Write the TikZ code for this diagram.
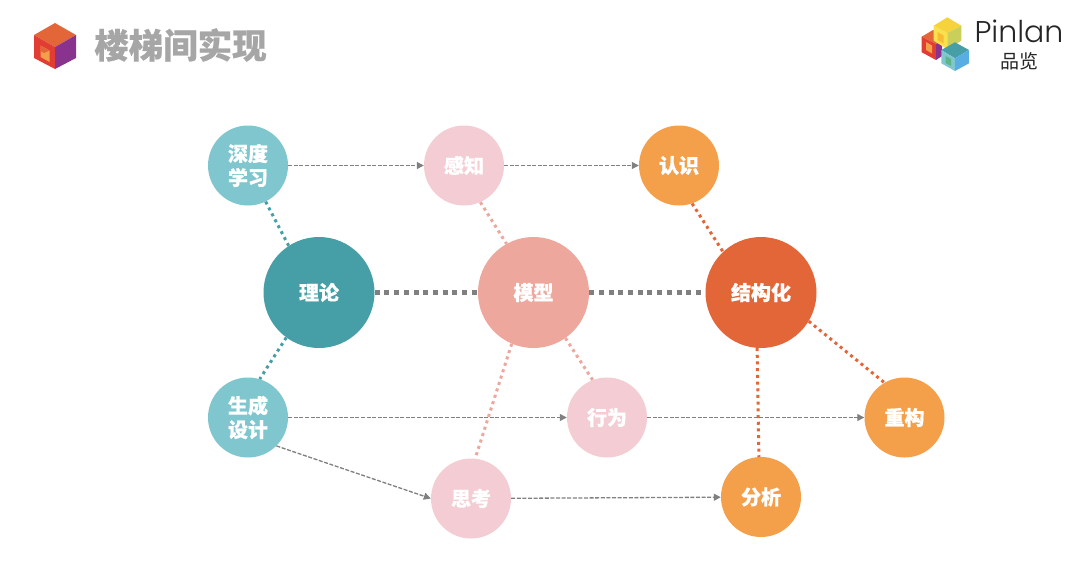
\documentclass[tikz,border=0pt]{standalone}
\usepackage{fontspec}
\newfontfamily\cjk[BoldFeatures={FakeBold=0.6}]{Noto Sans CJK SC}
\newfontfamily\logofont{Poppins Light}
\usetikzlibrary{arrows.meta}
\definecolor{tealD}{HTML}{469EA6}
\definecolor{tealL}{HTML}{7FC6CE}
\definecolor{pinkD}{HTML}{EDA79C}
\definecolor{pinkL}{HTML}{F3CDD3}
\definecolor{orgD}{HTML}{E36639}
\definecolor{orgL}{HTML}{F49F4A}
\definecolor{edgeG}{HTML}{808080}
\definecolor{cubeR}{HTML}{E23D33}
\definecolor{cubeP}{HTML}{8A338E}
\definecolor{cubeY}{HTML}{F6D33C}
\definecolor{cubeYL}{HTML}{F9E04C}
\definecolor{cubeYG}{HTML}{C9CF58}
\definecolor{cubeB}{HTML}{58ADE3}
\definecolor{cubeG}{HTML}{5FB58A}
\tikzset{
  x=1pt,y=-1pt,
  big/.style={circle,minimum size=111pt,inner sep=0pt,text=white,align=center,font=\cjk\bfseries\fontsize{20}{24}\selectfont},
  small/.style={circle,minimum size=80pt,inner sep=0pt,text=white,align=center,font=\cjk\bfseries\fontsize{20}{24}\selectfont},
  flow/.style={draw=edgeG,line width=1.3pt,dash pattern=on 4pt off 1.6pt,-{Triangle[length=7pt,width=7pt,fill=edgeG]}},
  link/.style={line width=3pt,dash pattern=on 3pt off 3.7pt},
  trunk/.style={draw=edgeG,line width=4.8pt,dash pattern=on 5pt off 4.7pt},
}
\begin{document}
\begin{tikzpicture}
\useasboundingbox (0,0) rectangle (1080,576);
\fill[white] (0,0) rectangle (1080,576);
% left logo
\fill[orgD] (55,23)--(76,35)--(55,47)--(34,35)--cycle;
\fill[cubeR] (34,35)--(55,47)--(55,69)--(34,58)--cycle;
\fill[cubeP] (76,35)--(55,47)--(55,69)--(76,58)--cycle;
\fill[orgL] (40.5,45.5)--(49.5,50.5)--(49.5,62)--(40.5,57)--cycle;
\fill[orgD] (40.5,45.5)--(49.5,50.5)--(44,53)--(40.5,51)--cycle;
\node[font=\cjk\bfseries\fontsize{34.5}{38}\selectfont,text=black!35,anchor=west,inner sep=0pt] (title) at (94,45) {楼梯间实现};
% right logo
\fill[orgD] (933,30)--(947,37)--(936,44)--(921.7,36.7)--cycle;
\fill[cubeR] (921.7,36.7)--(936,44)--(936,60)--(921.7,52.3)--cycle;
\fill[cubeP] (936,44)--(942,41)--(942,56)--(936,60)--cycle;
\fill[orgL] (926,42)--(932,45.5)--(932,53.5)--(926,50)--cycle;
\fill[cubeY] (947.3,17.3)--(961.3,25.7)--(947.3,33.3)--(933.7,25.7)--cycle;
\fill[cubeYL] (933.7,25.7)--(947.3,33.3)--(947.3,49.3)--(933.7,40.7)--cycle;
\fill[cubeYG] (961.3,25.7)--(947.3,33.3)--(947.3,49.3)--(961.3,40.7)--cycle;
\fill[orgL!70!yellow] (937.5,32)--(943.5,35.5)--(943.5,43.5)--(937.5,40)--cycle;
\fill[tealD] (955,42.3)--(969,50)--(955,58.3)--(941.3,50)--cycle;
\fill[tealL] (941.3,50)--(955,58.3)--(955,71)--(941.3,63.3)--cycle;
\fill[cubeB] (969,50)--(955,58.3)--(955,71)--(969,63.3)--cycle;
\fill[cubeG] (945.5,56)--(951,59)--(951,66)--(945.5,63)--cycle;
\node[font=\logofont\fontsize{30}{32}\selectfont,text=black!85,inner sep=0pt] (brand) at (1019,31) {Pinlan};
\node[font=\cjk\fontsize{19}{21}\selectfont,text=black!85,inner sep=0pt] (brandcn) at (1019,61) {品览};
% nodes
\node[big,fill=tealD] (theory) at (319,292.5) {\raisebox{-1pt}{理论}};
\node[big,fill=pinkD] (model) at (533.5,292.5) {\raisebox{-1pt}{模型}};
\node[big,fill=orgD] (struct) at (761,292.5) {\raisebox{-1pt}{结构化}};
\node[small,fill=tealL] (deep) at (248,165.5) {深度\\学习};
\node[small,fill=pinkL] (sense) at (464,165.5) {\raisebox{-1pt}{感知}};
\node[small,fill=orgL] (recog) at (679,165.5) {\raisebox{-1pt}{认识}};
\node[small,fill=tealL] (gen) at (248,417.5) {生成\\设计};
\node[small,fill=pinkL] (act) at (607,417.5) {\raisebox{-1pt}{行为}};
\node[small,fill=orgL] (rebuild) at (904.5,417.5) {\raisebox{-1pt}{重构}};
\node[small,fill=pinkL] (think) at (471,498.5) {\raisebox{-1pt}{思考}};
\node[small,fill=orgL] (analyse) at (761,497) {\raisebox{-1pt}{分析}};
% trunks
\draw[trunk] (theory.east) -- (model.west);
\draw[trunk] (model.east) -- (struct.west);
% links
\draw[link,draw=tealD] (deep.296) -- (theory.123);
\draw[link,draw=tealD] (theory.234) -- (gen.73);
\draw[link,draw=pinkD] (sense.294) -- (model.119);
\draw[link,draw=pinkD] (model.305) -- (act.111);
\draw[link,draw=pinkD] (model.247.5) -- (think.84);
\draw[link,draw=orgD] (recog.289) -- (struct.133.5);
\draw[link,draw=orgD] (struct.329) -- (rebuild.120);
\draw[link,draw=orgD] (struct.266) -- (analyse.93);
% flows
\draw[flow] (deep) -- (sense);
\draw[flow] (sense) -- (recog);
\draw[flow] (gen) -- (act);
\draw[flow] (act) -- (rebuild);
\draw[flow] (gen.-45) -- (think.180);
\draw[flow] (think) -- (analyse);
\end{tikzpicture}
\end{document}
